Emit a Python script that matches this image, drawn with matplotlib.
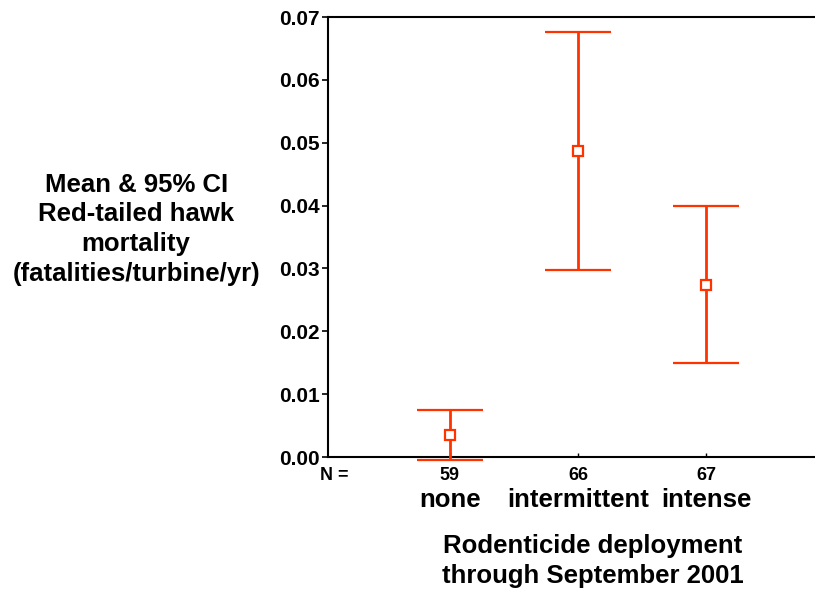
import matplotlib.pyplot as plt

plt.rcParams['font.family'] = ['Liberation Sans', 'DejaVu Sans']
plt.rcParams['font.weight'] = 'bold'

# Data
groups = ["none", "intermittent", "intense"]
n_counts = ["59", "66", "67"]
means = [0.0035, 0.0487, 0.0274]
lower = [-0.0004, 0.0298, 0.0149]
upper = [0.0074, 0.0676, 0.0399]
yticks = [0.00, 0.01, 0.02, 0.03, 0.04, 0.05, 0.06, 0.07]

color = "#ff3300"
x = [1, 2, 3]

fig = plt.figure(figsize=(8.15, 5.89), dpi=100)
ax = fig.add_axes([0.4025, 0.2241, 0.5975, 0.747])

err_lo = [m - l for m, l in zip(means, lower)]
err_hi = [u - m for m, u in zip(means, upper)]
ax.errorbar(x, means, yerr=[err_lo, err_hi], fmt='s', color=color,
			mfc='white', mec=color, ms=7, mew=1.6, elinewidth=2.0,
			capsize=24, capthick=2.0, clip_on=False, zorder=3)

ax.set_xlim(0.05, 3.85)
ax.set_ylim(0, 0.07)
ax.set_yticks(yticks)
ax.set_yticklabels(["%.2f" % v for v in yticks], fontsize=15, fontweight='bold')
ax.set_xticks(x)
ax.set_xticklabels([])
ax.tick_params(axis='y', direction='out', length=4, width=1.2, pad=2)
ax.tick_params(axis='x', direction='in', length=3, width=1)

ax.spines['right'].set_visible(False)
for s in ['left', 'top', 'bottom']:
	ax.spines[s].set_linewidth(1.5)

# N counts and group names under the axis
ax.text(-0.01, -0.0029, "N =", fontsize=13, fontweight='bold',
		ha='left', va='center', clip_on=False)
for xi, n, g in zip(x, n_counts, groups):
	ax.text(xi, -0.0029, n, fontsize=13, fontweight='bold', ha='center', va='center')
	ax.text(xi, -0.0068, g, fontsize=18.5, fontweight='bold', ha='center', va='center')

fig.text(0.727, 0.047, "Rodenticide deployment\nthrough September 2001",
		 fontsize=18.5, fontweight='bold', ha='center', va='center', linespacing=1.3)

fig.text(0.167, 0.611, "Mean & 95% CI\nRed-tailed hawk\nmortality\n(fatalities/turbine/yr)",
		 fontsize=18.5, fontweight='bold', ha='center', va='center', linespacing=1.3)

fig.savefig("out.png", dpi=100)
